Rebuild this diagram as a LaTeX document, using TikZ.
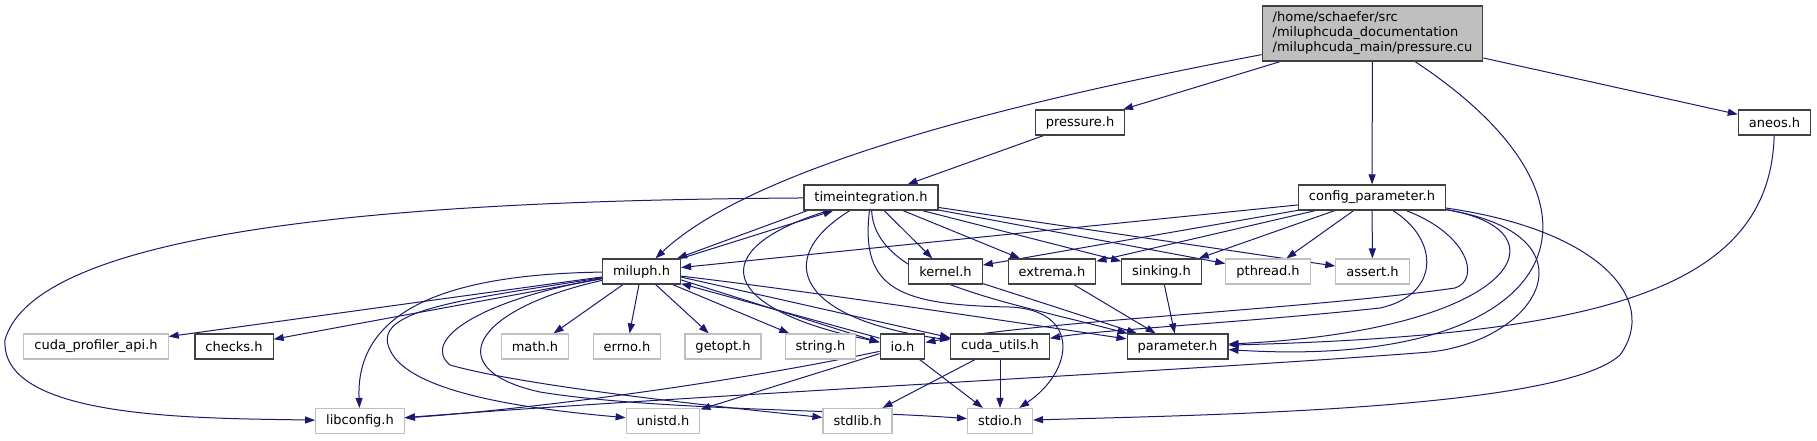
\documentclass[tikz,border=0pt]{standalone}
\usepackage{fontspec}
\usepackage{tikz}
\usetikzlibrary{arrows.meta,backgrounds}
\newfontfamily\dejavu{DejaVu Sans}
\newcommand{\graphfont}{\dejavu\fontsize{13}{15}\selectfont}
\definecolor{Edge}{HTML}{191970}
\definecolor{Grey75}{HTML}{BFBFBF}
\definecolor{Border}{HTML}{404040}

\begin{document}
\begin{tikzpicture}[x=1pt,y=-1pt,
  file/.style={draw=Border,line width=1.2pt,fill=white,minimum height=25pt,inner xsep=10.5pt,inner ysep=0pt,font=\graphfont},
  sysfile/.style={file,draw=Grey75},
  dep/.style={-{Triangle[length=10pt,width=7pt]},line width=1pt,draw=Edge}
]
  \useasboundingbox (0,0) rectangle (1817,440);
  % files
  \node[file,fill=Grey75,align=left,minimum height=55pt] (root) at (1372.5,33.5) {/home/schaefer/src\\/miluphcuda\_documentation\\/miluphcuda\_main/pressure.cu};
  \node[file] (pressureh) at (1080,122.5) {pressure.h};
  \node[file] (aneos) at (1774.5,122.5) {aneos.h};
  \node[file] (timeint) at (871,197.5) {timeintegration.h};
  \node[file] (config) at (1372,197.5) {config\_parameter.h};
  \node[file] (miluph) at (641.5,271.5) {miluph.h};
  \node[file] (kernel) at (945.5,271.5) {kernel.h};
  \node[file] (extrema) at (1052,271.5) {extrema.h};
  \node[file] (sinking) at (1161.5,271.5) {sinking.h};
  \node[sysfile] (pthread) at (1268,271.5) {pthread.h};
  \node[sysfile] (assert) at (1372.5,271.5) {assert.h};
  \node[sysfile] (cudaprof) at (96,346.5) {cuda\_profiler\_api.h};
  \node[file] (checks) at (234,346.5) {checks.h};
  \node[sysfile] (mathh) at (535,346.5) {math.h};
  \node[sysfile] (errno) at (627,346.5) {errno.h};
  \node[sysfile] (getopt) at (723,346.5) {getopt.h};
  \node[sysfile] (stringh) at (820.5,346.5) {string.h};
  \node[file] (io) at (902.5,346.5) {io.h};
  \node[file] (cudautils) at (1000,346.5) {cuda\_utils.h};
  \node[file] (parameter) at (1177.5,346.5) {parameter.h};
  \node[sysfile] (libconfig) at (360,421) {libconfig.h};
  \node[sysfile] (unistd) at (663,421) {unistd.h};
  \node[sysfile] (stdlib) at (857.5,421) {stdlib.h};
  \node[sysfile] (stdio) at (1000,421) {stdio.h};

  \begin{scope}[on background layer]
  \fill[white] (0,0) rectangle (1817,440);
  % includes of pressure.cu
  \draw[dep] (root) .. controls (1050,95) and (760,160) .. (miluph);
  \draw[dep] (root) -- (pressureh);
  \draw[dep] (root) -- (config);
  \draw[dep] (root) .. controls (1640,210) and (1560,370) .. (parameter);
  \draw[dep] (root) -- (aneos);
  \draw[dep] (pressureh) -- (timeint);
  \draw[dep] (aneos) .. controls (1770,290) and (1600,335) .. (parameter);
  % timeintegration.h
  \draw[dep] (timeint) .. controls (500,200) and (40,215) .. (5,340) .. controls (0,420) and (200,418) .. (libconfig);
  \draw[dep] ([xshift=4pt]timeint.south west) -- ([xshift=-4pt]miluph.north east);
  \draw[dep] (timeint) -- (kernel);
  \draw[dep] (timeint) -- (extrema);
  \draw[dep] (timeint) -- (sinking);
  \draw[dep] (timeint) -- (pthread);
  \draw[dep] (timeint) -- (assert);
  \draw[dep] (timeint) .. controls (700,250) and (720,310) .. (io);
  \draw[dep] (timeint) .. controls (770,260) and (800,320) .. (cudautils);
  \draw[dep] (timeint) .. controls (875,280) and (1000,300) .. (parameter);
  \draw[dep] (timeint) .. controls (860,290) and (900,305) .. (1010,307) .. controls (1080,310) and (1075,370) .. (stdio);
  % config_parameter.h
  \draw[dep] (config) -- (miluph);
  \draw[dep] (config) -- (kernel);
  \draw[dep] (config) -- (extrema);
  \draw[dep] (config) -- (sinking);
  \draw[dep] (config) -- (pthread);
  \draw[dep] (config) -- (assert);
  \draw[dep] (config) .. controls (1470,235) and (1480,280) .. (1455,288) .. controls (1300,310) and (1050,320) .. (io);
  \draw[dep] (config) .. controls (1440,240) and (1440,295) .. (1380,308) .. controls (1250,322) and (1100,330) .. (cudautils);
  \draw[dep] (config) .. controls (1570,230) and (1520,330) .. (parameter);
  \draw[dep] (config) .. controls (1600,235) and (1540,340) .. (1430,352) .. controls (1200,370) and (700,395) .. (libconfig);
  \draw[dep] (config) .. controls (1600,230) and (1660,300) .. (1620,355) .. controls (1560,410) and (1200,415) .. (stdio);
  % miluph.h
  \draw[dep] (miluph.north east) -- ([xshift=30pt]timeint.south west);
  \draw[dep] (miluph) .. controls (470,274) and (355,300) .. (libconfig);
  \draw[dep] (miluph) -- (cudaprof);
  \draw[dep] (miluph) -- (checks);
  \draw[dep] (miluph) .. controls (460,300) and (370,310) .. (390,350) .. controls (410,395) and (540,410) .. (unistd);
  \draw[dep] (miluph) .. controls (480,300) and (420,340) .. (450,365) .. controls (520,385) and (700,405) .. (stdlib);
  \draw[dep] (miluph) .. controls (470,310) and (440,370) .. (540,392) .. controls (650,410) and (850,410) .. (stdio);
  \draw[dep] (miluph) -- (mathh);
  \draw[dep] (miluph) -- (errno);
  \draw[dep] (miluph) -- (getopt);
  \draw[dep] (miluph) -- (stringh);
  \draw[dep] (miluph.-12) -- (io.170);
  \draw[dep] (miluph.-8) -- (cudautils.170);
  \draw[dep] (miluph) .. controls (800,290) and (1000,320) .. (parameter);
  % io.h, cuda_utils.h and the rest
  \draw[dep] (io.160) -- (miluph.-17);
  \draw[dep] (io) .. controls (720,385) and (520,410) .. (libconfig);
  \draw[dep] (io) -- (unistd);
  \draw[dep] (io) -- (stdio);
  \draw[dep] (cudautils) -- (stdlib);
  \draw[dep] (cudautils) -- (stdio);
  \draw[dep] (kernel) -- (parameter);
  \draw[dep] (extrema) -- (parameter);
  \draw[dep] (sinking) -- (parameter);
  \end{scope}
\end{tikzpicture}
\end{document}
